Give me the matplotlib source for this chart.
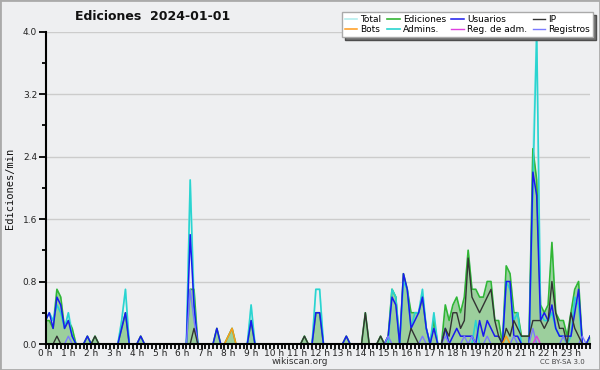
#!/usr/bin/env python3

import numpy as np
import matplotlib
matplotlib.use('Agg')
import matplotlib.pyplot as plt
import matplotlib.patches

# Edits per 10-minute bin (one row per hour, six bins each), 2024-01-01.
total = [
    3, 4, 3, 7, 6, 2,   4, 2, 0, 0, 0, 1,   0, 1, 0, 0, 0, 0,   0, 0, 3, 7, 0, 0,
    0, 1, 0, 0, 0, 0,   0, 0, 0, 0, 0, 0,   0, 0, 21, 7, 0, 0,  0, 0, 0, 2, 0, 0,
    1, 2, 0, 0, 0, 0,   5, 0, 0, 0, 0, 0,   0, 0, 0, 0, 0, 0,   0, 0, 1, 0, 0, 7,
    7, 0, 0, 0, 0, 0,   0, 1, 0, 0, 0, 0,   4, 0, 0, 0, 1, 0,   1, 7, 6, 0, 9, 7,
    4, 4, 4, 7, 2, 0,   4, 0, 0, 5, 3, 5,   6, 4, 6, 12, 7, 7,  6, 6, 8, 8, 3, 3,
    0, 10, 9, 4, 4, 1,  1, 1, 25, 40, 5, 4, 5, 13, 4, 3, 3, 1,  4, 7, 8, 0, 0, 1,
]
ediciones = [
    3, 3, 2, 7, 6, 2,   3, 2, 0, 0, 0, 1,   0, 1, 0, 0, 0, 0,   0, 0, 2, 4, 0, 0,
    0, 1, 0, 0, 0, 0,   0, 0, 0, 0, 0, 0,   0, 0, 7, 7, 0, 0,   0, 0, 0, 2, 0, 0,
    1, 2, 0, 0, 0, 0,   3, 0, 0, 0, 0, 0,   0, 0, 0, 0, 0, 0,   0, 0, 1, 0, 0, 4,
    4, 0, 0, 0, 0, 0,   0, 1, 0, 0, 0, 0,   4, 0, 0, 0, 1, 0,   1, 7, 6, 0, 9, 7,
    4, 4, 4, 6, 2, 0,   3, 0, 0, 5, 3, 5,   6, 4, 6, 12, 7, 7,  6, 6, 8, 8, 3, 3,
    0, 10, 9, 4, 4, 1,  1, 1, 25, 21, 5, 4, 5, 13, 4, 3, 3, 1,  4, 7, 8, 0, 0, 1,
]
usuarios = [
    3, 4, 2, 6, 5, 2,   3, 1, 0, 0, 0, 1,   0, 0, 0, 0, 0, 0,   0, 0, 2, 4, 0, 0,
    0, 1, 0, 0, 0, 0,   0, 0, 0, 0, 0, 0,   0, 0, 14, 5, 0, 0,  0, 0, 0, 2, 0, 0,
    0, 0, 0, 0, 0, 0,   3, 0, 0, 0, 0, 0,   0, 0, 0, 0, 0, 0,   0, 0, 0, 0, 0, 4,
    4, 0, 0, 0, 0, 0,   0, 1, 0, 0, 0, 0,   0, 0, 0, 0, 0, 0,   1, 6, 5, 0, 9, 7,
    2, 3, 4, 6, 2, 0,   2, 0, 0, 2, 0, 1,   2, 1, 1, 1, 1, 0,   3, 1, 3, 2, 1, 1,
    0, 8, 8, 1, 1, 0,   0, 0, 22, 19, 3, 4, 3, 5, 2, 1, 1, 1,   1, 4, 7, 0, 0, 1,
]
ip = [
    0, 0, 0, 1, 0, 0,   0, 0, 0, 0, 0, 0,   0, 1, 0, 0, 0, 0,   0, 0, 0, 0, 0, 0,
    0, 0, 0, 0, 0, 0,   0, 0, 0, 0, 0, 0,   0, 0, 0, 2, 0, 0,   0, 0, 0, 0, 0, 0,
    0, 0, 0, 0, 0, 0,   0, 0, 0, 0, 0, 0,   0, 0, 0, 0, 0, 0,   0, 0, 1, 0, 0, 0,
    0, 0, 0, 0, 0, 0,   0, 0, 0, 0, 0, 0,   4, 0, 0, 0, 1, 0,   0, 0, 0, 0, 0, 0,
    2, 1, 0, 0, 0, 0,   0, 0, 0, 2, 1, 4,   4, 2, 3, 11, 6, 5,  4, 5, 6, 7, 3, 1,
    0, 2, 1, 3, 2, 1,   1, 1, 3, 3, 3, 2,   3, 8, 4, 2, 2, 0,   4, 2, 1, 0, 0, 0,
]
bots = [
    0, 0, 0, 0, 0, 0,   0, 0, 0, 0, 0, 0,   0, 0, 0, 0, 0, 0,   0, 0, 0, 0, 0, 0,
    0, 0, 0, 0, 0, 0,   0, 0, 0, 0, 0, 0,   0, 0, 0, 0, 0, 0,   0, 0, 0, 0, 0, 0,
    1, 2, 0, 0, 0, 0,   0, 0, 0, 0, 0, 0,   0, 0, 0, 0, 0, 0,   0, 0, 0, 0, 0, 0,
    0, 0, 0, 0, 0, 0,   0, 0, 0, 0, 0, 0,   0, 0, 0, 0, 0, 0,   0, 0, 0, 0, 0, 0,
    0, 0, 0, 0, 0, 0,   0, 0, 0, 0, 0, 0,   0, 0, 0, 0, 0, 0,   0, 0, 0, 0, 0, 0,
    0, 1, 0, 0, 0, 0,   0, 0, 0, 0, 0, 0,   0, 0, 0, 0, 0, 0,   0, 0, 0, 0, 0, 0,
]
admins = [
    3, 4, 3, 5, 4, 2,   4, 1, 0, 0, 0, 0,   0, 0, 0, 0, 0, 0,   0, 0, 3, 7, 0, 0,
    0, 0, 0, 0, 0, 0,   0, 0, 0, 0, 0, 0,   0, 0, 21, 5, 0, 0,  0, 0, 0, 0, 0, 0,
    0, 0, 0, 0, 0, 0,   5, 0, 0, 0, 0, 0,   0, 0, 0, 0, 0, 0,   0, 0, 0, 0, 0, 7,
    7, 0, 0, 0, 0, 0,   0, 0, 0, 0, 0, 0,   0, 0, 0, 0, 0, 0,   0, 7, 6, 0, 8, 7,
    2, 4, 4, 7, 2, 0,   4, 0, 0, 0, 0, 0,   0, 0, 0, 0, 0, 3,   0, 0, 0, 0, 0, 0,
    0, 8, 7, 3, 4, 0,   0, 0, 20, 40, 4, 3, 3, 4, 2, 1, 1, 0,   1, 6, 5, 0, 0, 0,
]
reg_adm = [
    0, 0, 0, 0, 0, 0,   0, 0, 0, 0, 0, 0,   0, 0, 0, 0, 0, 0,   0, 0, 0, 0, 0, 0,
    0, 0, 0, 0, 0, 0,   0, 0, 0, 0, 0, 0,   0, 0, 0, 0, 0, 0,   0, 0, 0, 0, 0, 0,
    0, 0, 0, 0, 0, 0,   0, 0, 0, 0, 0, 0,   0, 0, 0, 0, 0, 0,   0, 0, 0, 0, 0, 0,
    0, 0, 0, 0, 0, 0,   0, 0, 0, 0, 0, 0,   0, 0, 0, 0, 0, 0,   0, 0, 0, 0, 0, 0,
    0, 0, 0, 0, 0, 0,   0, 0, 0, 0, 0, 0,   0, 0, 0, 0, 0, 0,   0, 0, 0, 0, 0, 0,
    0, 0, 0, 0, 0, 0,   0, 0, 0, 1, 0, 0,   0, 0, 0, 0, 0, 0,   0, 0, 0, 0, 0, 0,
]
registros = [
    0, 0, 0, 0, 0, 0,   1, 0, 0, 0, 0, 0,   0, 0, 0, 0, 0, 0,   0, 0, 0, 0, 0, 0,
    0, 0, 0, 0, 0, 0,   0, 0, 0, 0, 0, 0,   0, 0, 7, 3, 0, 0,   0, 0, 0, 0, 0, 0,
    0, 0, 0, 0, 0, 0,   0, 0, 0, 0, 0, 0,   0, 0, 0, 0, 0, 0,   0, 0, 0, 0, 0, 0,
    0, 0, 0, 0, 0, 0,   0, 0, 0, 0, 0, 0,   0, 0, 0, 0, 0, 0,   1, 0, 0, 0, 0, 0,
    0, 0, 0, 1, 0, 0,   0, 0, 0, 1, 0, 0,   0, 0, 1, 0, 1, 0,   0, 0, 1, 0, 0, 0,
    0, 0, 0, 1, 0, 0,   0, 0, 2, 0, 0, 0,   0, 0, 0, 0, 1, 0,   0, 0, 0, 1, 0, 0,
]

hour_labels = [f"{h} h" for h in range(24)]
y_ticks = [0.0, 0.8, 1.6, 2.4, 3.2, 4.0]

BG = '#eeeff1'


def per_min(counts):
    # 10-minute bins -> edits per minute
    return np.array(counts) / 10


def plot_edits():
    fig = plt.figure(figsize=(6, 3.7), dpi=100, facecolor=BG)
    ax = fig.add_axes([45.5/600, 1 - 344/370, (590 - 45.5)/600, (344 - 31.5)/370])
    ax.set_facecolor(BG)

    x = np.arange(len(total))

    styles = [
        ('Total',        total,     dict(color='#b4eeee', lw=1.2)),
        ('Ediciones',    ediciones, dict(color='#33b533', lw=1.2)),
        ('Admins.',      admins,    dict(color='#2ad4d0', lw=1.2)),
        ('Usuarios',     usuarios,  dict(color='#1a1aee', lw=1.1)),
        ('Registros',    registros, dict(color='#7a7aff', lw=1.0)),
        ('IP',           ip,        dict(color='#333333', lw=1.0)),
        ('Bots',         bots,      dict(color='#ff9a1a', lw=1.1)),
        ('Reg. de adm.', reg_adm,   dict(color='#e040e0', lw=1.0)),
    ]

    ax.fill_between(x, per_min(ediciones), color='#66bb66', alpha=0.6, lw=0, zorder=1)

    handles = {}
    for label, counts, style in styles:
        line, = ax.plot(x, per_min(counts), label=label, zorder=2, **style)
        handles[label] = line

    ax.set_xlim(0, len(total) - 1)
    ax.set_ylim(0, 4.0)

    ax.set_xticks(np.arange(0, len(total), 6))
    ax.set_xticklabels(hour_labels)
    ax.set_xticks(x, minor=True)
    ax.set_yticks(y_ticks)
    ax.set_yticklabels([f"{v:.1f}" for v in y_ticks])
    ax.set_yticks(np.arange(0, 4.01, 0.4), minor=True)

    ax.tick_params(axis='both', which='both', direction='out', width=1.3,
                   colors='black', labelcolor='#222222', labelsize=6.5)
    ax.tick_params(axis='x', which='major', length=3.5, pad=0)
    ax.tick_params(axis='x', which='minor', length=3.5)
    ax.tick_params(axis='y', which='major', length=5, pad=1)
    ax.tick_params(axis='y', which='minor', length=3)

    ax.grid(axis='y', color='#cccccc', lw=1)
    ax.set_axisbelow(True)
    for side in ('top', 'right'):
        ax.spines[side].set_visible(False)
    for side in ('left', 'bottom'):
        ax.spines[side].set_linewidth(1.5)
        ax.spines[side].set_zorder(3)

    order = ['Total', 'Bots', 'Ediciones', 'Admins.', 'Usuarios', 'Reg. de adm.', 'IP', 'Registros']
    leg = ax.legend(
        [handles[k] for k in order], order,
        ncol=4, loc='upper right',
        bbox_to_anchor=(593/600, 1 - 12/370), bbox_transform=fig.transFigure,
        borderaxespad=0, fontsize=6.5, handlelength=1.4, handletextpad=0.35,
        columnspacing=0.6, labelspacing=0.15, borderpad=0.3,
        fancybox=False, framealpha=1, edgecolor='#aaaaaa',
        shadow=dict(facecolor='#707070', alpha=1, ox=2.5, oy=-2.5),
    )
    leg.set_zorder(5)

    fig.text(153/600, 1 - 17/370, "Ediciones  2024-01-01", ha='center', va='center',
             fontsize=9, fontweight='bold', color='#111111')
    fig.text(10/600, 1 - 188/370, "Ediciones/min", rotation=90, ha='center', va='center',
             fontsize=7.5, family='DejaVu Sans Mono', color='#111111')
    fig.text(300/600, 1 - 362/370, "wikiscan.org", ha='center', va='center',
             fontsize=6.5, color='#333333')
    fig.text(562/600, 1 - 362/370, "CC BY-SA 3.0", ha='center', va='center',
             fontsize=5, color='#444444')

    fig.patches.append(matplotlib.patches.Rectangle(
        (0, 0), 1, 1, transform=fig.transFigure, fill=False,
        edgecolor='#aaaaaa', lw=2))

    return fig


if __name__ == '__main__':
    fig = plot_edits()
    fig.savefig('out.png', dpi=100, facecolor=BG)
